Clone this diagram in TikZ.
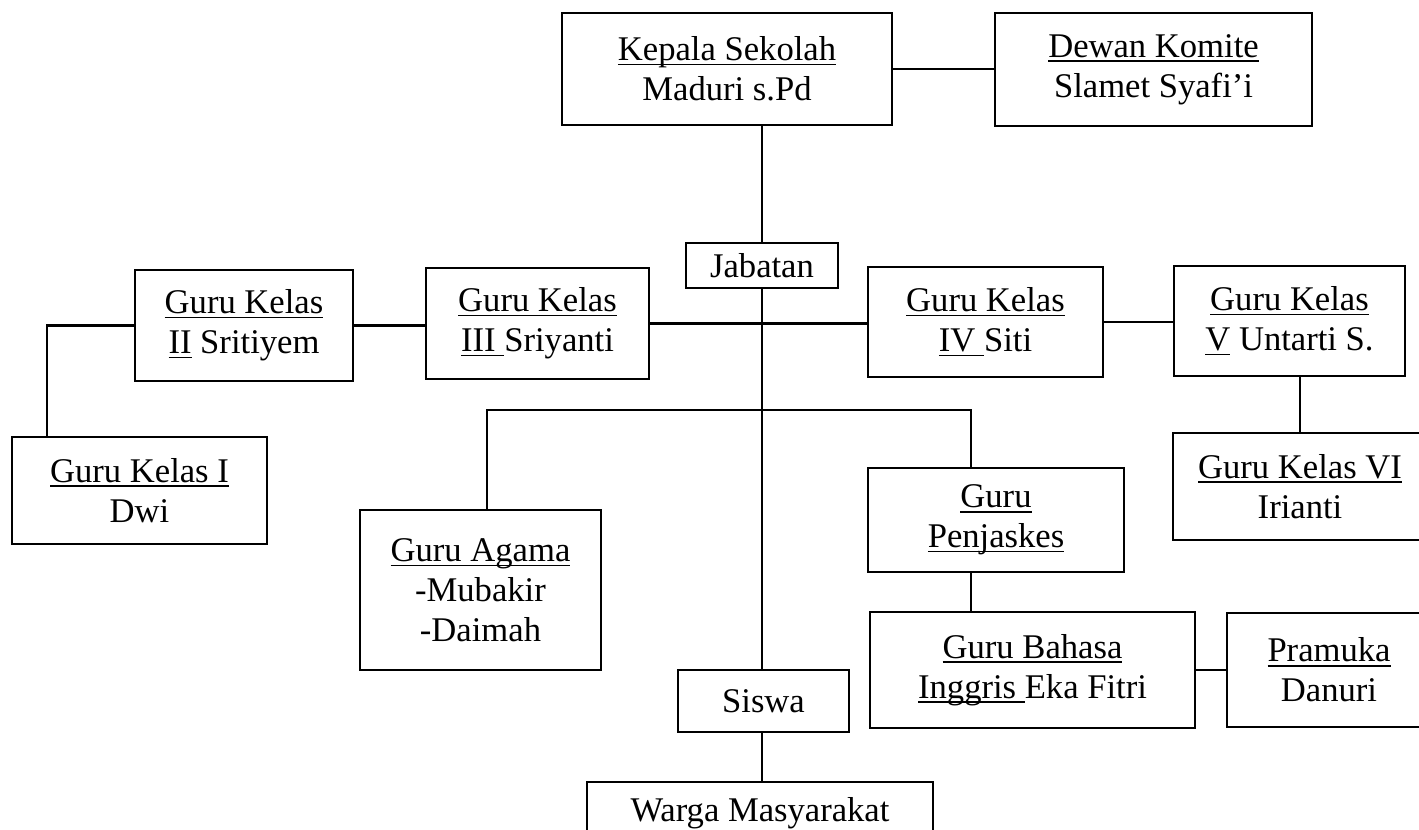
\documentclass[tikz,border=0pt]{standalone}
\usepackage{fontspec}
\setmainfont{Liberation Serif}
\newcommand\myul[1]{\setbox0\hbox{#1}\rlap{\rule[-2.6pt]{\wd0}{0.9pt}}\box0\relax}
\begin{document}
\begin{tikzpicture}[x=0.02cm,y=-0.02cm,
  every node/.style={font=\fontsize{19.7}{22.6}\selectfont},
  box/.style={draw,line width=1.3pt,align=center,inner sep=0pt},
  sz/.style n args={2}{minimum width=#1*0.02cm,minimum height=#2*0.02cm},
  conn/.style={line width=1.3pt}]
\useasboundingbox (0,0) rectangle (1419,829);
\clip (0,0) rectangle (1419,829);
\fill[white] (0,0) rectangle (1419,829);
% nodes
\node[box,sz={330}{112}] (kepala) at (727,69) {\myul{Kepala Sekolah}\\Maduri s.Pd};
\node[box,sz={317}{113}] (dewan) at (1153.5,69.5) {\myul{Dewan Komite}\\Slamet Syafi'i};
\node[box,sz={152}{45}] (jab) at (762,265.5) {Jabatan};
\node[box,sz={218}{111}] (g2) at (244,325.5) {\myul{Guru Kelas}\\\myul{II} Sritiyem};
\node[box,sz={223}{111}] (g3) at (537.5,323.5) {\myul{Guru Kelas}\\\myul{III }Sriyanti};
\node[box,sz={235}{110}] (g4) at (985.5,322) {\myul{Guru Kelas}\\\myul{IV }Siti};
\node[box,sz={231}{110}] (g5) at (1289.5,321) {\myul{Guru Kelas}\\\myul{V} Untarti S.};
\node[box,sz={255}{107}] (g1) at (139.5,490.5) {\myul{Guru Kelas I}\\Dwi};
\node[box,sz={254}{107}] (g6) at (1300,486.5) {\myul{Guru Kelas VI}\\Irianti};
\node[box,sz={241}{160}] (agama) at (480.5,590) {\myul{Guru Agama}\\-Mubakir\\-Daimah};
\node[box,sz={256}{104}] (penj) at (996,520) {\myul{Guru}\\\myul{Penjaskes}};
\node[box,sz={325}{116}] (bahasa) at (1032.5,670) {\myul{Guru Bahasa}\\\myul{Inggris }Eka Fitri};
\node[box,sz={204}{114}] (pramuka) at (1329,670) {\myul{Pramuka}\\Danuri};
\node[box,sz={171}{62}] (siswa) at (763.5,701) {Siswa};
\node[box,anchor=north,minimum width=346*0.02cm,inner xsep=0pt,inner ysep=0.32cm,
      text height=0.46cm,text depth=1.2cm] (warga) at (760,781) {Warga Masyarakat};
% helper coordinates
\coordinate (c1) at (47,334);
\coordinate (bl) at (487,410);
\coordinate (br) at (971,410);
% connectors
\draw[conn] (kepala.east) -- (kepala.east -| dewan.west);
\draw[conn] (jab.north |- kepala.south) -- (jab.north);
\draw[conn] (jab.south) -- (jab.south |- siswa.north);
\draw[conn] (jab.south |- siswa.south) -- (jab.south |- warga.north);
\draw[conn] (g2.east) -- (g2.east -| g3.west);
\draw[conn] (g3.east) -- (g3.east -| g4.west);
\draw[conn] (g4.east) -- (g4.east -| g5.west);
\draw[conn] (g2.west) -- (g2.west -| c1) -- (c1 |- g1.north);
\draw[conn] (g6.north |- g5.south) -- (g6.north);
\draw[conn] (bl |- agama.north) -- (bl) -- (br) -- (br |- penj.north);
\draw[conn] (br |- penj.south) -- (br |- bahasa.north);
\draw[conn] (bahasa.east) -- (bahasa.east -| pramuka.west);
\end{tikzpicture}
\end{document}
